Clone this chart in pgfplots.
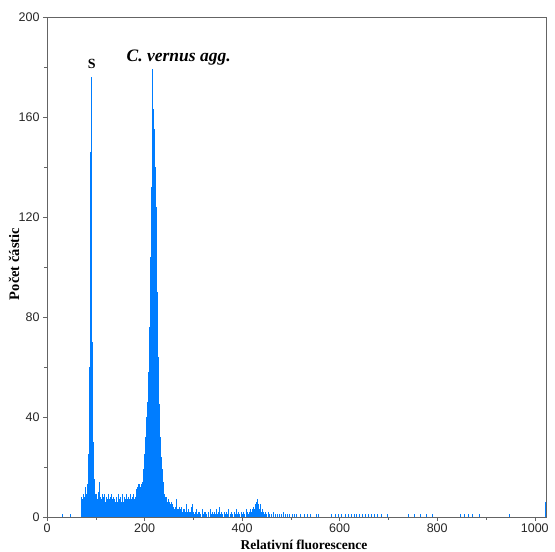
\documentclass[border=0pt]{standalone}
\usepackage{fontspec}
\setmainfont{Liberation Sans}
\newfontfamily\seriffont{Liberation Serif}
\usepackage{pgfplots}
\pgfplotsset{compat=1.18}
\definecolor{fluo}{RGB}{0,125,255}
\definecolor{frame}{RGB}{100,100,100}
\begin{document}
\begin{tikzpicture}
\begin{axis}[name=ax,
  scale only axis, width=499pt, height=500pt,
  xmin=0, xmax=1023, ymin=0, ymax=200,
  xtick={0,200,...,1000}, ytick={0,40,...,200},
  minor tick num=1,
  tick align=outside, tick pos=left,
  major tick length=4pt, minor tick length=3pt,
  every tick/.style={frame, line width=0.5pt},
  axis line style={frame, line width=0.6pt},
  /pgf/number format/assume math mode=true,
  /pgf/number format/1000 sep={},
  tick label style={font=\fontsize{12.5}{14}\selectfont, text=black!85},
  xticklabel style={yshift=1pt},
  xlabel={\seriffont\bfseries Relativní fluorescence},
  ylabel={\seriffont\bfseries Počet částic},
  label style={font=\fontsize{13.5}{15}\selectfont},
  xlabel style={at={(rel axis cs:0.515,0)}, anchor=center, yshift=-28pt},
  ylabel style={at={(rel axis cs:0,0.506)}, anchor=center, yshift=33pt, font=\fontsize{14.5}{16}\selectfont},
  clip=false,
]
\addplot[ycomb, color=fluo, line width=0.55pt, mark=none] coordinates {
(32,1)(47,1)
(70,6)(71,8)(72,5)(73,7)(74,9)(75,6)(76,8)(77,7)(78,12)(79,8)(80,7)(81,9)(82,10)(83,13)(84,18)(85,25)(86,35)(87,60)(88,90)(89,146)
(90,176)(91,92)(92,70)(93,48)(94,30)(95,22)(96,15)(97,11)(98,9)(99,7)
(100,8)(101,6)(102,9)(103,7)(104,6)(105,8)(106,10)(107,7)(108,14)(109,6)
(110,8)(111,5)(112,7)(113,9)(114,6)(115,8)(116,5)(117,7)(118,9)(119,6)
(120,4)(121,8)(122,6)(123,7)(124,5)(125,9)(126,6)(127,4)(128,7)(129,8)
(130,5)(131,6)(132,9)(133,4)(134,7)(135,5)(136,8)(137,6)(138,7)(139,3)
(140,6)(141,8)(142,5)(143,7)(144,4)(145,6)(146,9)(147,5)(148,7)(149,6)
(150,4)(151,8)(152,6)(153,5)(154,7)(155,9)(156,4)(157,6)(158,8)(159,5)
(160,7)(161,6)(162,9)(163,5)(164,7)(165,4)(166,8)(167,6)(168,5)(169,7)
(170,9)(171,6)(172,4)(173,7)(174,8)(175,5)(176,6)(177,9)(178,7)(179,5)
(180,8)(181,6)(182,10)(183,7)(184,11)(185,12)(186,10)(187,13)(188,12)(189,11)
(190,13)(191,12)(192,10)(193,13)(194,11)(195,12)(196,14)(197,16)(198,19)(199,22)
(200,25)(201,28)(202,32)(203,36)(204,40)(205,43)(206,46)(207,50)(208,58)(209,66)
(210,76)(211,90)(212,104)(213,118)(214,132)(215,146)(216,179)(217,152)(218,163)(219,155)
(220,148)(221,140)(222,132)(223,124)(224,118)(225,104)(226,90)(227,76)(228,64)(229,52)
(230,45)(231,38)(232,32)(233,28)(234,24)(235,21)(236,19)(237,17)(238,14)(239,11)
(240,9)(241,7)(242,8)(243,6)(244,5)(245,8)(246,6)(247,4)(248,7)(249,5)
(250,6)(251,4)(252,5)(253,3)(254,6)(255,3)(256,4)(257,5)(258,3)(259,4)
(260,3)(261,2)(262,4)(263,3)(264,2)(265,5)(266,7)(267,3)(268,2)(269,3)
(270,1)(271,4)(272,2)(273,3)(274,1)(275,2)(276,4)(277,2)(278,1)(279,3)
(280,2)(281,1)(282,3)(283,2)(284,1)(285,2)(286,5)(287,1)(288,2)(289,1)
(290,3)(291,2)(292,1)(293,2)(294,1)(295,4)(296,1)(297,5)(298,2)(299,1)
(300,2)(301,1)(303,2)(305,1)(306,3)(308,1)(310,2)(312,1)(313,2)(315,1)(318,3)
(320,1)(322,2)(324,1)(325,2)(327,1)(330,2)(331,1)(334,3)(336,1)(338,2)
(340,1)(342,2)(345,1)(347,3)(349,1)(351,2)(354,4)(356,1)(358,2)(360,1)
(363,2)(365,1)(368,2)(370,1)(372,3)(375,1)(377,2)(380,1)(383,2)(385,1)
(388,3)(390,1)(392,2)(395,1)(398,2)(400,1)(403,2)(405,1)(408,3)(410,2)
(412,1)(415,2)(417,3)(419,2)(421,3)(423,4)(425,3)(427,5)(428,4)(430,6)
(431,5)(432,7)(433,5)(434,4)(436,3)(437,5)(439,2)(441,3)(443,2)(445,1)
(447,2)(450,1)(453,2)(456,1)(460,1)(463,2)(467,1)(472,1)(476,1)(480,1)
(484,2)(488,1)(493,1)(497,1)(502,1)(507,1)(512,1)(520,1)(528,1)(534,1)
(540,1)(552,1)(556,1)(583,1)(590,1)(598,1)(604,1)(611,1)(617,1)(623,1)
(629,1)(634,1)(640,1)(646,1)(652,1)(658,1)(664,1)(671,1)(678,1)(685,1)
(697,1)(740,1)(752,1)(766,1)(778,1)(790,1)(848,1)(856,1)(864,1)(872,1)
(886,1)(948,1)(1021,6)
};
\node[font=\seriffont\bfseries\fontsize{14}{16}\selectfont, anchor=base] at (axis cs:92,179.5) {S};
\node[font=\seriffont\bfseries\itshape\fontsize{17.5}{20}\selectfont, anchor=base] at (axis cs:270,182) {C. vernus agg.};
\end{axis}
\pgfresetboundingbox
\path ([shift={(-47pt,-35pt)}]ax.south west) rectangle ([shift={(9pt,17pt)}]ax.north east);
\end{tikzpicture}
\end{document}
